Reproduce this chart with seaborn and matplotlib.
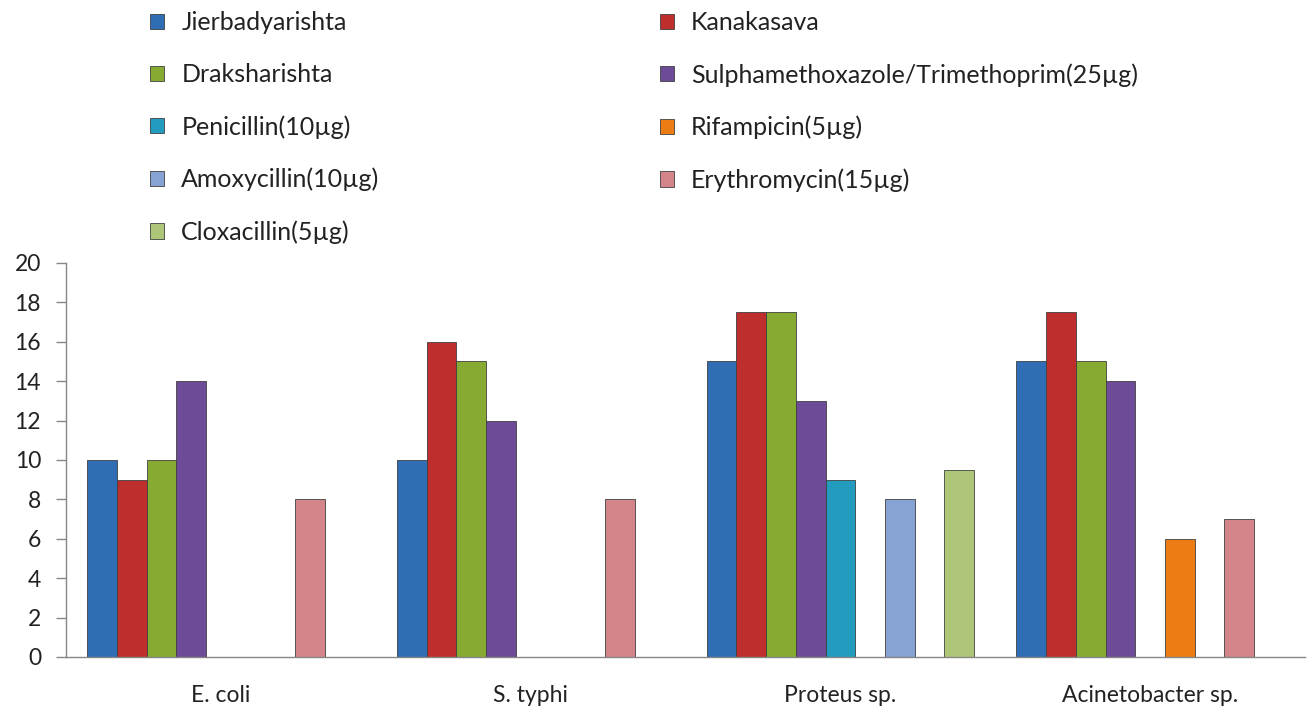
import matplotlib.pyplot as plt
import pandas as pd
import seaborn as sns

sns.set_style("white")
plt.rcParams['font.family'] = ['Lato', 'DejaVu Sans']
plt.rcParams['font.size'] = 16

organisms = ["E. coli", "S. typhi", "Proteus sp.", "Acinetobacter sp."]
agents = ["Jierbadyarishta", "Kanakasava", "Draksharishta",
          "Sulphamethoxazole/Trimethoprim(25µg)", "Penicillin(10µg)",
          "Rifampicin(5µg)", "Amoxycillin(10µg)", "Erythromycin(15µg)",
          "Cloxacillin(5µg)"]

# zone of inhibition per agent, one value per organism (0 = no zone)
jierbadyarishta = [10, 10, 15, 15]
kanakasava = [9, 16, 17.5, 17.5]
draksharishta = [10, 15, 17.5, 15]
sulpha_trim = [14, 12, 13, 14]
penicillin = [0, 0, 9, 0]
rifampicin = [0, 0, 0, 6]
amoxycillin = [0, 0, 8, 0]
erythromycin = [8, 8, 0, 7]
cloxacillin = [0, 0, 9.5, 0]

colors = ["#2F6DB5", "#BE2E2D", "#86AA32", "#6E4B96", "#239BBE",
          "#EB7D14", "#86A3D3", "#D38589", "#AEC678"]

series = [jierbadyarishta, kanakasava, draksharishta, sulpha_trim, penicillin,
          rifampicin, amoxycillin, erythromycin, cloxacillin]
rows = []
for agent, vals in zip(agents, series):
    for org, v in zip(organisms, vals):
        if v > 0:
            rows.append({"organism": org, "agent": agent, "zone": v})
df = pd.DataFrame(rows)

fig = plt.figure(figsize=(13.13, 7.17), dpi=100)
ax = fig.add_axes([0.0503, 0.0837, 0.9436, 0.5495])

sns.barplot(data=df, x="organism", y="zone", hue="agent", order=organisms,
            hue_order=agents, palette=colors, width=0.864, gap=0,
            edgecolor="#404040", linewidth=0.6, saturation=1, ax=ax)

ax.set_xlim(-0.5, 3.5)
ax.set_ylim(0, 20)
ax.set_yticks(range(0, 21, 2))
ax.set_xlabel("")
ax.set_ylabel("")
ax.set_xticks([-0.5, 0.5, 1.5, 2.5, 3.5], minor=True)
ax.tick_params(axis="x", which="major", length=0, pad=20, labelsize=16.5, colors="#222222")
ax.tick_params(axis="x", which="minor", length=7, width=1, color="#868686", direction="out")
ax.tick_params(axis="y", length=7, width=1, color="#868686", direction="out",
               pad=11, labelsize=16.5, labelcolor="#222222", left=True)
for s in ["top", "right"]:
    ax.spines[s].set_visible(False)
for s in ["left", "bottom"]:
    ax.spines[s].set_color("#868686")
    ax.spines[s].set_linewidth(1)

handles, labels = ax.get_legend_handles_labels()
ax.get_legend().remove()
order = [0, 2, 4, 6, 8, 1, 3, 5, 7]
fig.legend([handles[i] for i in order], [labels[i] for i in order],
           ncol=2, loc="upper left", bbox_to_anchor=(0.097, 1.016),
           frameon=False, fontsize=18, handlelength=0.56, handleheight=0.56,
           handletextpad=0.7, labelspacing=1.16, columnspacing=11.2,
           labelcolor="#222222")

fig.savefig("out.png", dpi=100)
